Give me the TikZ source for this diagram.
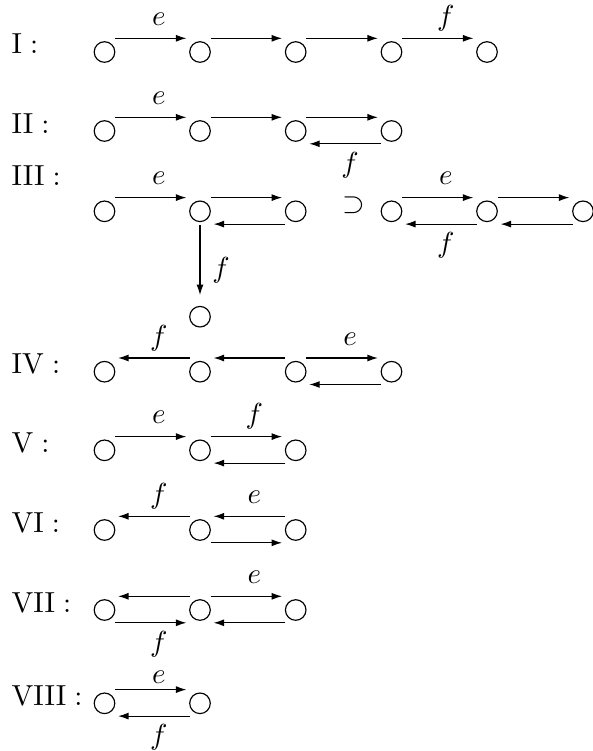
\documentclass[tikz,border=0pt]{standalone}
\usetikzlibrary{arrows.meta,calc}
\tikzset{
  vtx/.style={circle,draw,line width=0.4pt,minimum size=7.1pt,inner sep=0pt},
  arr/.style={line width=0.4pt,-{Latex[length=3.6pt,width=2.4pt]}},
  lab/.style={inner sep=0pt,anchor=base},
  rowlab/.style={inner sep=0pt,anchor=base west},
}
\newcommand\arrR[3]{\draw[arr] ([shift={(10.5,#3)}]#1.center) -- ([shift={(-13.6,#3)}]#2.center);}
\newcommand\arrL[3]{\draw[arr] ([shift={(-10.5,#3)}]#1.center) -- ([shift={(13.6,#3)}]#2.center);}
\newcommand\labT[4]{\node[lab] (#1) at ($(#2)!0.5!(#3)+(6.5,-26.5)$) {$#4$};}
\newcommand\labB[4]{\node[lab] (#1) at ($(#2)!0.5!(#3)+(6.5,41)$) {$#4$};}
\begin{document}
\begin{tikzpicture}[x=0.345pt,y=-0.345pt]
\useasboundingbox (0,0) rectangle (592,751);
% Row I
\node[rowlab] (LI) at (11,53.5) {$\mathrm{I}:$};
\node[vtx] (Ia) at (104.5,52) {};
\node[vtx] (Ib) at (200,52) {};
\node[vtx] (Ic) at (295.7,52) {};
\node[vtx] (Id) at (391.5,52) {};
\node[vtx] (Ie) at (487,52) {};
\arrR{Ia}{Ib}{-13.7}
\arrR{Ib}{Ic}{-13.7}
\arrR{Ic}{Id}{-13.7}
\arrR{Id}{Ie}{-13.7}
\labT{Ie1}{Ia}{Ib}{e}
\labT{If1}{Id}{Ie}{f}
% Row II
\node[rowlab] (LII) at (11,133) {$\mathrm{II}:$};
\node[vtx] (IIa) at (104.5,131) {};
\node[vtx] (IIb) at (200,131) {};
\node[vtx] (IIc) at (295.7,131) {};
\node[vtx] (IId) at (391.5,131) {};
\arrR{IIa}{IIb}{-13.7}
\arrR{IIb}{IIc}{-13.7}
\arrR{IIc}{IId}{-13.7}
\arrL{IId}{IIc}{12.8}
\labT{IIe1}{IIa}{IIb}{e}
\labB{IIf1}{IIc}{IId}{f}
% Row III
\node[rowlab] (LIII) at (11,185) {$\mathrm{III}:$};
\node[vtx] (IIIa) at (104.5,211.3) {};
\node[vtx] (IIIb) at (200,211.3) {};
\node[vtx] (IIIc) at (295.7,211.3) {};
\node[vtx] (IIId) at (200,316.7) {};
\arrR{IIIa}{IIIb}{-13.7}
\arrR{IIIb}{IIIc}{-13.7}
\arrL{IIIc}{IIIb}{12.8}
\draw[arr] ([shift={(0,13.7)}]IIIb.center) -- ([shift={(0,-21.7)}]IIId.center);
\labT{IIIe1}{IIIa}{IIIb}{e}
\node[lab] (IIIf1) at (221,277) {$f$};
\node[lab] (sup) at (354,212) {$\supset$};
\node[vtx] (IIIe) at (391.5,211.3) {};
\node[vtx] (IIIf) at (487,211.3) {};
\node[vtx] (IIIg) at (583,211.3) {};
\arrR{IIIe}{IIIf}{-13.7}
\arrL{IIIf}{IIIe}{12.8}
\arrR{IIIf}{IIIg}{-13.7}
\arrL{IIIg}{IIIf}{12.8}
\labT{IIIe2}{IIIe}{IIIf}{e}
\labB{IIIf2}{IIIe}{IIIf}{f}
% Row IV
\node[rowlab] (LIV) at (11,373.5) {$\mathrm{IV}:$};
\node[vtx] (IVa) at (104.5,371.7) {};
\node[vtx] (IVb) at (200,371.7) {};
\node[vtx] (IVc) at (295.7,371.7) {};
\node[vtx] (IVd) at (391.5,371.7) {};
\arrL{IVb}{IVa}{-13.7}
\arrL{IVc}{IVb}{-13.7}
\arrR{IVc}{IVd}{-13.7}
\arrL{IVd}{IVc}{12.8}
\labT{IVf1}{IVa}{IVb}{f}
\labT{IVe1}{IVc}{IVd}{e}
% Row V
\node[rowlab] (LV) at (11,452) {$\mathrm{V}:$};
\node[vtx] (Va) at (104.5,450.3) {};
\node[vtx] (Vb) at (200,450.3) {};
\node[vtx] (Vc) at (295.7,450.3) {};
\arrR{Va}{Vb}{-13.7}
\arrR{Vb}{Vc}{-13.7}
\arrL{Vc}{Vb}{12.8}
\labT{Ve1}{Va}{Vb}{e}
\labT{Vf1}{Vb}{Vc}{f}
% Row VI
\node[rowlab] (LVI) at (11,532.5) {$\mathrm{VI}:$};
\node[vtx] (VIa) at (104.5,530) {};
\node[vtx] (VIb) at (200,530) {};
\node[vtx] (VIc) at (295.7,530) {};
\arrL{VIb}{VIa}{-13.7}
\arrL{VIc}{VIb}{-13.7}
\arrR{VIb}{VIc}{12.8}
\labT{VIf1}{VIa}{VIb}{f}
\labT{VIe1}{VIb}{VIc}{e}
% Row VII
\node[rowlab] (LVII) at (11,612) {$\mathrm{VII}:$};
\node[vtx] (VIIa) at (104.5,610) {};
\node[vtx] (VIIb) at (200,610) {};
\node[vtx] (VIIc) at (295.7,610) {};
\arrL{VIIb}{VIIa}{-13.7}
\arrR{VIIa}{VIIb}{12.8}
\arrR{VIIb}{VIIc}{-13.7}
\arrL{VIIc}{VIIb}{12.8}
\labT{VIIe1}{VIIb}{VIIc}{e}
\labB{VIIf1}{VIIa}{VIIb}{f}
% Row VIII
\node[rowlab] (LVIII) at (11,705) {$\mathrm{VIII}:$};
\node[vtx] (VIIIa) at (104.5,703.3) {};
\node[vtx] (VIIIb) at (200,703.3) {};
\arrR{VIIIa}{VIIIb}{-13.7}
\arrL{VIIIb}{VIIIa}{12.8}
\node[lab] (VIIIe1) at ($(VIIIa)!0.5!(VIIIb)+(6.5,-20)$) {$e$};
\labB{VIIIf1}{VIIIa}{VIIIb}{f}
\end{tikzpicture}
\end{document}
